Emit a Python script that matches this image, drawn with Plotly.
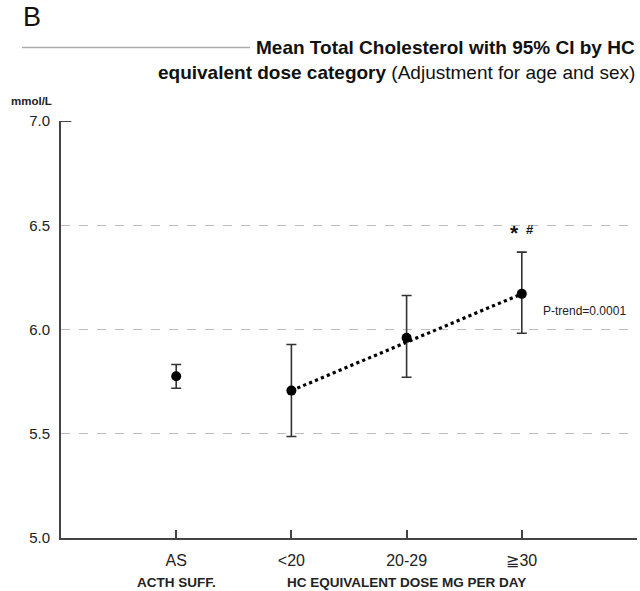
import plotly.graph_objects as go

categories = ["AS", "<20", "20-29", "≧30"]
means = [5.776, 5.707, 5.960, 6.171]
ci_lower = [5.718, 5.487, 5.771, 5.982]
ci_upper = [5.832, 5.928, 6.163, 6.371]
trend_categories = ["<20", "≧30"]
trend_values = [5.707, 6.171]
y_ticks = [5.0, 5.5, 6.0, 6.5, 7.0]

pos = {c: i + 1 for i, c in enumerate(categories)}
xs = [pos[c] for c in categories]

fig = go.Figure()

fig.add_trace(go.Scatter(
    x=[pos[c] for c in trend_categories], y=trend_values,
    mode="lines", line=dict(color="black", width=3.2, dash="dot"),
    hoverinfo="skip", showlegend=False))

fig.add_trace(go.Scatter(
    x=xs, y=means, mode="markers",
    marker=dict(color="black", size=10),
    error_y=dict(type="data", symmetric=False,
                 array=[u - m for u, m in zip(ci_upper, means)],
                 arrayminus=[m - l for m, l in zip(means, ci_lower)],
                 color="#333333", thickness=1.6, width=5),
    showlegend=False))

font_main = "Liberation Sans Narrow, Arial Narrow, Liberation Sans, Arial, sans-serif"
font_reg = "Liberation Sans, Arial, sans-serif"

fig.update_layout(
    width=640, height=591,
    margin=dict(l=61, r=3, t=121, b=53),
    plot_bgcolor="white", paper_bgcolor="white",
    font=dict(family=font_reg, color="#222222"),
    xaxis=dict(range=[0, 5], tickvals=xs, ticktext=categories,
               showgrid=False, zeroline=False, showline=True,
               linecolor="#444444", linewidth=2,
               ticks="inside", ticklen=8, tickwidth=1.5, tickcolor="#444444",
               ticklabelstandoff=7,
               tickfont=dict(size=16, color="#222222"), fixedrange=True),
    yaxis=dict(range=[5.0, 7.0], tickvals=y_ticks,
               ticktext=[f"{v:.1f}" for v in y_ticks],
               showgrid=True, gridcolor="#bbbbbb", gridwidth=1, griddash="dash",
               zeroline=False, showline=True, linecolor="#444444", linewidth=2,
               ticks="", ticklabelstandoff=6,
               tickfont=dict(size=15, color="#222222"), fixedrange=True),
)

# short solid segment at top of y axis
fig.add_shape(type="line", xref="x", yref="y", x0=0, x1=0.09, y0=7.0, y1=7.0,
              line=dict(color="#444444", width=2))

# Panel letter
fig.add_annotation(text="B", xref="paper", yref="paper",
                   x=-40/576, y=(538-17)/417, xanchor="left", yanchor="middle",
                   showarrow=False, font=dict(size=27, color="#111111", family=font_reg))
# Title
fig.add_annotation(text="<b>Mean Total Cholesterol with 95% CI by HC</b>",
                   xref="paper", yref="paper", x=1, y=(538-47)/417,
                   xanchor="right", yanchor="middle", showarrow=False,
                   font=dict(size=19, color="#111111", family=font_main))
fig.add_annotation(text="<b>equivalent dose category</b> (Adjustment for age and sex)",
                   xref="paper", yref="paper", x=1, y=(538-72)/417,
                   xanchor="right", yanchor="middle", showarrow=False,
                   font=dict(size=19, color="#111111", family=font_main))
fig.add_shape(type="line", xref="paper", yref="paper",
              x0=(22-61)/576, x1=(250-61)/576, y0=(538-47.5)/417, y1=(538-47.5)/417,
              line=dict(color="#aaaaaa", width=1.5))
# unit
fig.add_annotation(text="<b>mmol/L</b>", xref="paper", yref="paper",
                   x=-52/576, y=(538-101)/417, xanchor="left", yanchor="middle",
                   showarrow=False, font=dict(size=11.5, color="#222222"))
# significance markers
fig.add_annotation(text="<b>*</b>", xref="x", yref="paper",
                   x=pos["≧30"] - 0.06, y=(538-232)/417, xanchor="center", yanchor="middle",
                   showarrow=False, font=dict(size=21, color="#111111"))
fig.add_annotation(text="<b>#</b>", xref="x", yref="paper",
                   x=pos["≧30"] + 0.07, y=(538-229)/417, xanchor="center", yanchor="middle",
                   showarrow=False, font=dict(size=13, color="#111111"))
fig.add_annotation(text="P-trend=0.0001", xref="x", yref="paper",
                   x=pos["≧30"] + 0.17, y=(538-311)/417, xanchor="left", yanchor="middle",
                   showarrow=False, font=dict(size=12, color="#222222"))
# group labels
fig.add_annotation(text="<b>ACTH SUFF.</b>", xref="x", yref="paper",
                   x=pos["AS"], y=-(582-538)/417, xanchor="center", yanchor="middle",
                   showarrow=False, font=dict(size=13.5, color="#222222"))
fig.add_annotation(text="<b>HC EQUIVALENT DOSE MG PER DAY</b>", xref="x", yref="paper",
                   x=3.0, y=-(582-538)/417, xanchor="center", yanchor="middle",
                   showarrow=False, font=dict(size=13.5, color="#222222"))

fig.write_html("out.html")
